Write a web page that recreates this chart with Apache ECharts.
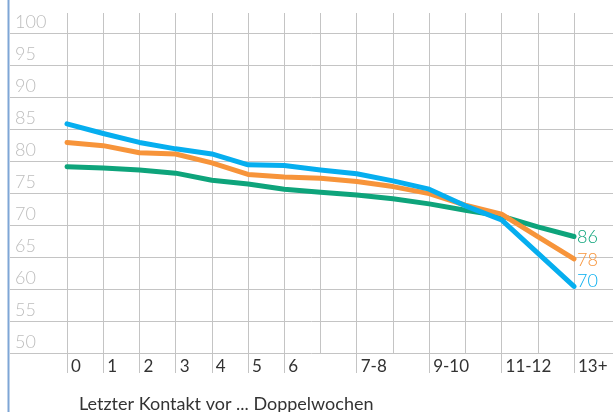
<!DOCTYPE html>
<html>
<head>
<meta charset="utf-8">
<script src="https://cdn.jsdelivr.net/npm/echarts@6/dist/echarts.min.js"></script>
<style>
  html, body { margin: 0; padding: 0; background: #fff; }
  #chart { width: 613px; height: 412px; }
</style>
</head>
<body>
<div id="chart"></div>
<script>
// Doppelwochen seit dem letzten Kontakt (leere Einträge = Zwischenschritte ohne Beschriftung)
const categories = ['0', '1', '2', '3', '4', '5', '6', '', '7-8', '', '9-10', '', '11-12', '', '13+'];

// Reihen, benannt nach ihrer Endbeschriftung
const seriesNames = ['86', '78', '70'];
const greenValues  = [79.1, 78.9, 78.6, 78.1, 77.0, 76.4, 75.6, 75.1, 74.7, 74.1, 73.3, 72.3, 71.4, 69.7, 68.2];
const orangeValues = [82.9, 82.4, 81.3, 81.1, 79.7, 77.9, 77.5, 77.3, 76.8, 76.0, 74.9, 73.1, 71.7, 68.2, 64.7];
const blueValues   = [85.8, 84.3, 82.9, 81.9, 81.1, 79.4, 79.3, 78.6, 78.0, 76.9, 75.6, 73.0, 70.8, 65.6, 60.4];

const yMin = 50;
const yMax = 100;
const yStep = 5;

const xTitle = 'Letzter Kontakt vor ... Doppelwochen';

const colors = ['#0ea47b', '#f7943a', '#06aeef'];
const gridColor = '#c4c4c4';
const font = 'Lato, "Open Sans", sans-serif';

const chart = echarts.init(document.getElementById('chart'), null, { renderer: 'canvas' });

const valueSets = [greenValues, orangeValues, blueValues];
const labelOffsets = [[0, 1], [0, 1], [0, -5]];

chart.setOption({
  animation: false,
  backgroundColor: '#fff',
  title: {
    text: xTitle,
    left: 74,
    top: 390,
    textStyle: { fontFamily: font, fontSize: 18, fontWeight: 'normal', color: '#333' }
  },
  grid: [
    // Datenbereich mit senkrechten Linien (ragen über die 100 hinaus)
    { left: 67, right: 39, top: 13, bottom: 59 },
    // waagerechte Linien über die ganze Breite
    { left: 10, right: 0, top: 33, bottom: 59 }
  ],
  xAxis: [
    {
      gridIndex: 0,
      type: 'category',
      data: categories,
      boundaryGap: false,
      axisLine: { show: false },
      axisTick: {
        show: true,
        length: 20,
        interval: (i, v) => v !== '',
        lineStyle: { color: gridColor, width: 1 }
      },
      axisLabel: {
        interval: 0,
        align: 'left',
        margin: 5,
        padding: [0, 0, 0, 4],
        fontFamily: font,
        fontSize: 17,
        color: '#333'
      },
      splitLine: { show: true, interval: 0, lineStyle: { color: gridColor, width: 1 } }
    },
    {
      gridIndex: 1,
      type: 'value',
      show: false,
      min: 0,
      max: 1
    }
  ],
  yAxis: [
    {
      gridIndex: 0,
      type: 'value',
      show: false,
      min: yMin,
      max: yMax + 3.125,
      splitLine: { show: false }
    },
    {
      gridIndex: 1,
      type: 'value',
      min: yMin,
      max: yMax,
      interval: yStep,
      axisLine: { show: false },
      axisTick: { show: false },
      axisLabel: {
        inside: true,
        margin: 5,
        verticalAlign: 'bottom',
        padding: [0, 0, 2, 0],
        fontFamily: font,
        fontWeight: 300,
        fontSize: 18,
        color: '#bdbdbd'
      },
      splitLine: { show: true, lineStyle: { color: gridColor, width: 1 } }
    }
  ],
  graphic: [
    {
      type: 'line',
      shape: { x1: 8.5, y1: 0, x2: 8.5, y2: 412 },
      style: { stroke: '#7ea6d6', lineWidth: 2 },
      z: 10
    }
  ],
  series: valueSets.map((vals, i) => ({
    name: seriesNames[i],
    type: 'line',
    xAxisIndex: 0,
    yAxisIndex: 0,
    data: vals,
    showSymbol: false,
    symbol: 'none',
    lineStyle: { color: colors[i], width: 5, cap: 'round', join: 'round' },
    itemStyle: { color: colors[i] },
    z: 3 + i,
    endLabel: {
      show: true,
      formatter: '{a}',
      distance: 3,
      offset: labelOffsets[i],
      fontFamily: font,
      fontWeight: 300,
      fontSize: 18,
      color: colors[i]
    }
  }))
});
</script>
</body>
</html>
